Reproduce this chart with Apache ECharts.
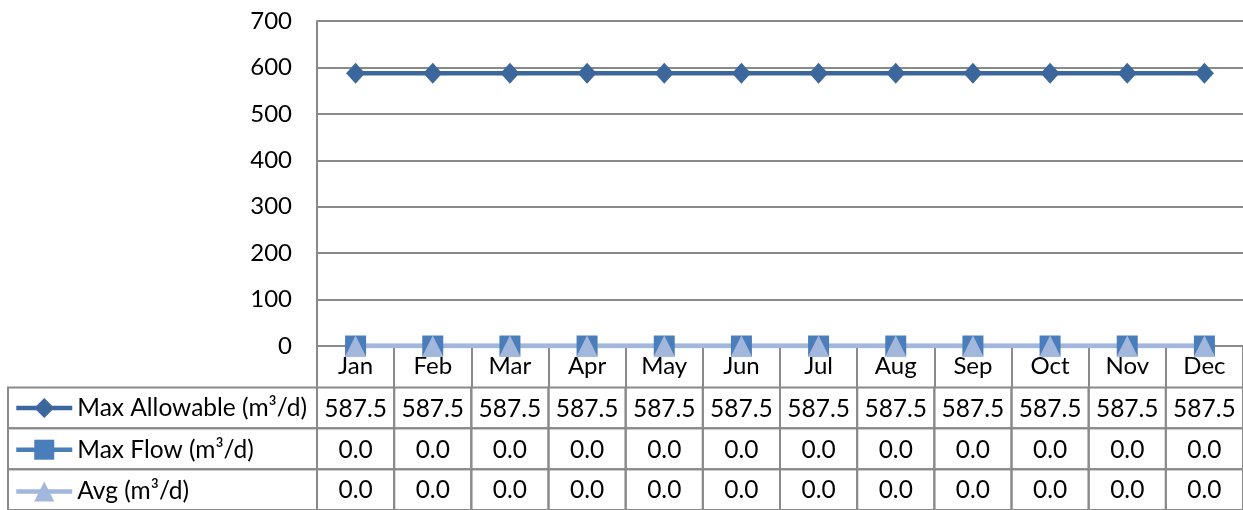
<!DOCTYPE html>
<html>
<head>
<meta charset="utf-8">
<script src="https://cdn.jsdelivr.net/npm/echarts@6/dist/echarts.min.js"></script>
<style>
  html, body { margin: 0; padding: 0; background: #fff; }
  #chart { width: 1243px; height: 510px; }
</style>
</head>
<body>
<div id="chart"></div>
<script>
// Monthly discharge figures
const months = ['Jan', 'Feb', 'Mar', 'Apr', 'May', 'Jun', 'Jul', 'Aug', 'Sep', 'Oct', 'Nov', 'Dec'];
const seriesNames = ['Max Allowable (m³/d)', 'Max Flow (m³/d)', 'Avg (m³/d)'];
const maxAllowable = [587.5, 587.5, 587.5, 587.5, 587.5, 587.5, 587.5, 587.5, 587.5, 587.5, 587.5, 587.5];
const maxFlow = [0, 0, 0, 0, 0, 0, 0, 0, 0, 0, 0, 0];
const avgFlow = [0, 0, 0, 0, 0, 0, 0, 0, 0, 0, 0, 0];
const yTicks = { min: 0, max: 700, interval: 100 };

const FONT = 'Lato';
const FS_AXIS = 24;
const FS_TABLE = 24.5;
const GRID_COLOR = '#8a8a8a';
const TABLE_LEFT = 8;

const rowsData = [maxAllowable, maxFlow, avgFlow];
const tableData = [];
rowsData.forEach((vals, r) => vals.forEach((v, m) => tableData.push([m, r, v])));

const chart = echarts.init(document.getElementById('chart'), null, { renderer: 'canvas' });

chart.setOption({
  animation: false,
  backgroundColor: '#fff',
  textStyle: { fontFamily: FONT },
  grid: [
    { left: 317, top: 21, width: 926, height: 325 },
    { left: 317, top: 387.5, width: 926, height: 125 }
  ],
  legend: {
    orient: 'vertical',
    left: 14,
    top: 395.5,
    padding: 0,
    itemWidth: 56,
    itemHeight: 25,
    itemGap: 16.7,
    selectedMode: false,
    lineStyle: { width: 4.5 },
    textStyle: { fontFamily: FONT, fontSize: FS_TABLE, color: '#000', lineHeight: 25 },
    data: seriesNames
  },
  xAxis: [
    {
      gridIndex: 0,
      type: 'category',
      data: months,
      boundaryGap: true,
      axisLine: { show: true, lineStyle: { color: GRID_COLOR, width: 2 } },
      axisTick: { show: true, interval: 0, length: 41, lineStyle: { color: GRID_COLOR, width: 2 } },
      axisLabel: { interval: 0, margin: 8, color: '#000', fontFamily: FONT, fontSize: FS_AXIS },
      splitLine: { show: false }
    },
    {
      gridIndex: 1,
      type: 'category',
      data: months,
      show: false
    }
  ],
  yAxis: [
    {
      gridIndex: 0,
      type: 'value',
      min: yTicks.min,
      max: yTicks.max,
      interval: yTicks.interval,
      axisLine: { show: true, lineStyle: { color: GRID_COLOR, width: 2 } },
      axisTick: { show: false },
      axisLabel: { margin: 25, color: '#000', fontFamily: FONT, fontSize: FS_AXIS },
      splitLine: { show: true, lineStyle: { color: GRID_COLOR, width: 2 } }
    },
    {
      gridIndex: 1,
      type: 'category',
      data: seriesNames,
      inverse: true,
      show: false
    }
  ],
  series: [
    {
      name: seriesNames[0],
      type: 'line',
      data: maxAllowable,
      symbol: 'diamond',
      symbolSize: [19, 21],
      color: '#3b679c',
      lineStyle: { width: 4.5, color: '#3b679c' },
      itemStyle: { color: '#3b679c' }
    },
    {
      name: seriesNames[1],
      type: 'line',
      data: maxFlow,
      symbol: 'rect',
      symbolSize: 21,
      color: '#4a7ebb',
      lineStyle: { width: 4.5, color: '#4a7ebb' },
      itemStyle: { color: '#4a7ebb' }
    },
    {
      name: seriesNames[2],
      type: 'line',
      data: avgFlow,
      symbol: 'triangle',
      symbolSize: 21,
      color: '#a3b7dc',
      lineStyle: { width: 4.5, color: '#a3b7dc' },
      itemStyle: { color: '#a3b7dc' }
    },
    {
      // data table under the plot
      type: 'custom',
      xAxisIndex: 1,
      yAxisIndex: 1,
      silent: true,
      encode: { x: 0, y: 1 },
      data: tableData,
      renderItem(params, api) {
        const c = api.coord([api.value(0), api.value(1)]);
        const s = api.size([1, 1]);
        const top = c[1] - s[1] / 2;
        const children = [
          {
            type: 'rect',
            shape: { x: c[0] - s[0] / 2, y: top, width: s[0], height: s[1] },
            style: { fill: 'none', stroke: GRID_COLOR, lineWidth: 2 }
          },
          {
            type: 'text',
            style: {
              text: api.value(2).toFixed(1),
              x: c[0], y: c[1] + 1,
              align: 'center', verticalAlign: 'middle',
              font: FS_TABLE + 'px ' + FONT,
              fill: '#000'
            }
          }
        ];
        if (api.value(0) === 0) {
          const gx = params.coordSys.x;
          children.push({
            type: 'rect',
            shape: { x: TABLE_LEFT, y: top, width: gx - TABLE_LEFT, height: s[1] },
            style: { fill: 'none', stroke: GRID_COLOR, lineWidth: 2 }
          });
        }
        return { type: 'group', children };
      },
      z: 1
    }
  ]
});
</script>
</body>
</html>
